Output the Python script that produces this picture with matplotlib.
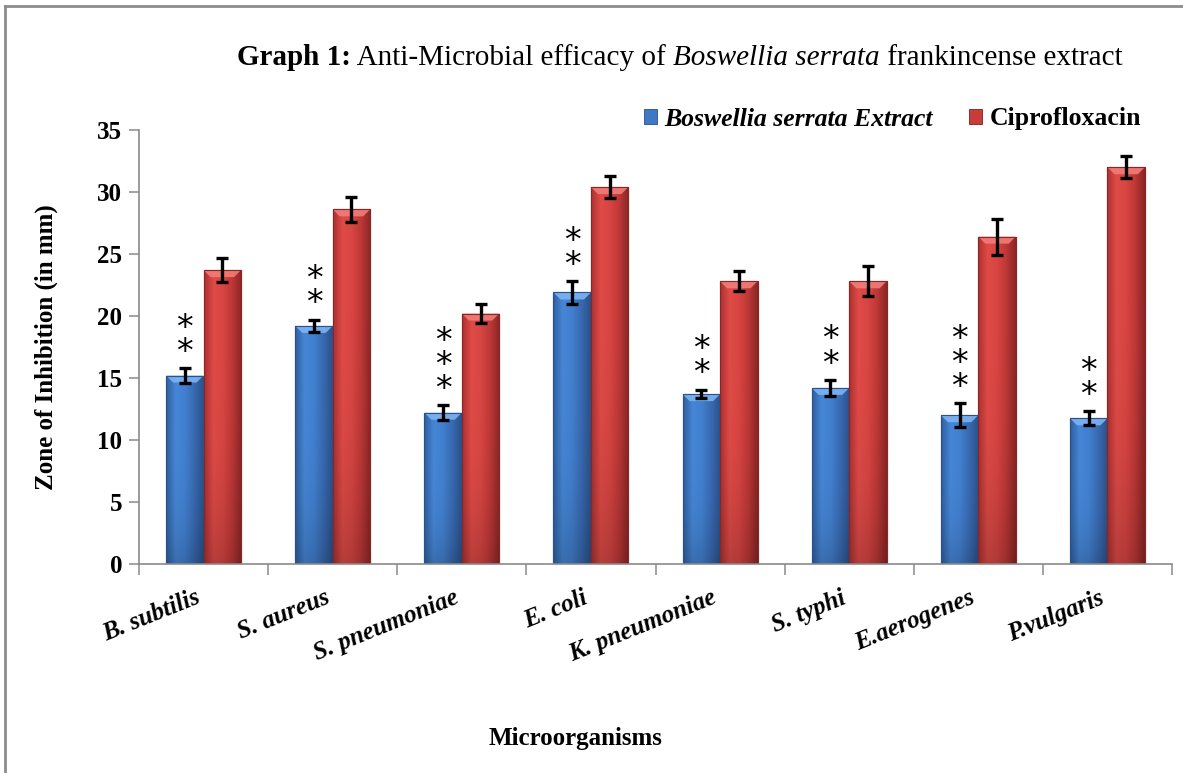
import numpy as np
import matplotlib
matplotlib.use("Agg")
import matplotlib.pyplot as plt
from matplotlib.colors import LinearSegmentedColormap, to_rgb
from matplotlib.patches import Patch, Polygon
from matplotlib.lines import Line2D

# values
categories = ["B. subtilis", "S. aureus", "S. pneumoniae", "E. coli",
              "K. pneumoniae", "S. typhi", "E.aerogenes", "P.vulgaris"]
extract = [15.2, 19.2, 12.2, 21.9, 13.7, 14.2, 12.0, 11.75]
extract_err = [0.6, 0.5, 0.6, 0.9, 0.35, 0.65, 0.95, 0.55]
cipro = [23.7, 28.6, 20.2, 30.4, 22.8, 22.8, 26.4, 32.0]
cipro_err = [0.95, 1.0, 0.75, 0.9, 0.8, 1.2, 1.45, 0.9]
stars = ["**", "**", "***", "**", "**", "**", "***", "**"]
yticks = [0, 5, 10, 15, 20, 25, 30, 35]

SERIF = "Liberation Serif"
W, H = 1183, 773

fig = plt.figure(figsize=(W / 100, H / 100), dpi=100)
ax = fig.add_axes([139 / W, 1 - 564 / H, (1172 - 139) / W, (564 - 130) / H])

x = np.arange(len(categories))
bw = 0.29

blue_bars = ax.bar(x - bw / 2, extract, bw, color="#3f78c4", edgecolor="#2a4f80",
                   linewidth=0.8, zorder=2)
red_bars = ax.bar(x + bw / 2, cipro, bw, color="#c83c3a", edgecolor="#7a2222",
                  linewidth=0.8, zorder=2)

ax.set_xlim(-0.5, len(categories) - 0.5)
ax.set_ylim(0, 35)

blue_grad = ["#2f5f9e", "#4686d6", "#4180cf", "#3869b0", "#2b5189"]
red_grad = ["#ac3131", "#df4b47", "#d84542", "#bc3836", "#8a2626"]
blue_top = "#7db3f2"
red_top = "#f27c78"

# pixel -> data conversions for the little bevel on top of each bar
p0 = ax.transData.transform((0, 0))
p1 = ax.transData.transform((1, 1))
px_x = 1 / (p1[0] - p0[0])
px_y = 1 / (p1[1] - p0[1])


def shade(bars, stops, top_col):
    cmap = LinearSegmentedColormap.from_list("g", stops)
    hx = np.linspace(0, 1, 80)
    vy = np.linspace(0, 1, 120)
    rgb = cmap(hx)[:, :3][None, :, :]
    dark = 1 - 0.18 * (1 - vy[:, None, None]) ** 4
    img = rgb * dark
    for b in bars:
        x0, y0, w, h = b.get_x(), b.get_y(), b.get_width(), b.get_height()
        im = ax.imshow(img, extent=(x0, x0 + w, y0, y0 + h), origin="lower",
                       aspect="auto", zorder=2.1, interpolation="bilinear")
        im.set_clip_path(b)
        dx, dy = 7 * px_x, 7 * px_y
        top = y0 + h
        ax.add_patch(Polygon([(x0, top), (x0 + w, top), (x0 + w - dx, top - dy),
                              (x0 + dx, top - dy)], closed=True,
                             facecolor=top_col, edgecolor="none", zorder=2.2, alpha=0.9))
        ax.add_patch(Polygon([(x0, y0), (x0, top), (x0 + w, top), (x0 + w, y0)],
                             closed=False, fill=False,
                             edgecolor=to_rgb(stops[-1]), linewidth=0.8, zorder=2.3))


shade(blue_bars, blue_grad, blue_top)
shade(red_bars, red_grad, red_top)
ax.set_xlim(-0.5, len(categories) - 0.5)
ax.set_ylim(0, 35)

ax.errorbar(x - bw / 2, extract, yerr=extract_err, fmt="none", ecolor="black",
            elinewidth=2.4, capsize=4.6, capthick=2.4, zorder=4)
ax.errorbar(x + bw / 2, cipro, yerr=cipro_err, fmt="none", ecolor="black",
            elinewidth=2.4, capsize=4.6, capthick=2.4, zorder=4)

# significance stars stacked above the extract bars (one text per bar)
star_size = 24
for xi, v, e, s in zip(x - bw / 2, extract, extract_err, stars):
    ax.annotate("\n".join(s), xy=(xi, v + e), xytext=(0, 18.7 - 0.59 * star_size),
                textcoords="offset points", ha="center", va="baseline",
                fontsize=star_size, family="DejaVu Sans", linespacing=0.66, zorder=5)

# axes styling
for side in ("top", "right"):
    ax.spines[side].set_visible(False)
for side in ("left", "bottom"):
    ax.spines[side].set_color("#8a8a8a")
    ax.spines[side].set_linewidth(1.2)

ax.set_yticks(yticks)
ax.set_yticklabels([str(t) for t in yticks], fontsize=18, fontweight="bold", family=SERIF)
ax.tick_params(axis="y", direction="out", length=7, width=1.1, color="#8a8a8a", pad=5)

ax.set_xticks(np.arange(-0.5, len(categories)), minor=False)
ax.set_xticklabels([])
ax.set_xticks(x, minor=True)
ax.set_xticklabels(categories, minor=True, fontsize=18, fontweight="bold",
                   fontstyle="italic", family=SERIF, rotation=22, ha="right", va="top")
ax.tick_params(axis="x", which="major", direction="out", length=8, width=1.1, color="#8a8a8a")
ax.tick_params(axis="x", which="minor", length=0, pad=16)

ax.set_ylabel("Zone of Inhibition (in mm)", fontsize=18, fontweight="bold", family=SERIF,
              va="center")
ax.yaxis.set_label_coords((46 - 139) / 1033, 0.5)
ax.set_xlabel("Microorganisms", fontsize=18, fontweight="bold", family=SERIF, va="center")
ax.xaxis.set_label_coords((576 - 139) / 1033, (564 - 738) / 434)

# legend
handles = [Patch(facecolor="#3f78c4", edgecolor="#2a4f80", linewidth=0.6),
           Patch(facecolor="#c83c3a", edgecolor="#7a2222", linewidth=0.6)]
leg = ax.legend(handles, ["Boswellia serrata Extract", "Ciprofloxacin"],
                loc="center right", bbox_to_anchor=(1141 / W, 1 - 119 / H),
                bbox_transform=fig.transFigure, ncol=2, frameon=False,
                prop={"family": SERIF, "size": 18.5, "weight": "bold"},
                handlelength=0.5, handleheight=0.5, handletextpad=0.3,
                columnspacing=1.4, borderpad=0, borderaxespad=0)
leg.get_texts()[0].set_fontstyle("italic")

# title made of differently styled pieces
renderer = fig.canvas.get_renderer()
title_parts = [("Graph 1:", "bold", "normal"),
               (" Anti-Microbial efficacy of ", "normal", "normal"),
               ("Boswellia serrata", "normal", "italic"),
               (" frankincense extract", "normal", "normal")]
tx = 237 / W
for txt, wt, st in title_parts:
    t = fig.text(tx, 1 - 65 / H, txt, fontsize=21, fontweight=wt, fontstyle=st,
                 family=SERIF, ha="left", va="baseline")
    tx += t.get_window_extent(renderer=renderer).width / fig.bbox.width

# outer frame of the chart area (only left and top edges are visible)
fig.add_artist(Line2D([5 / W, 5 / W], [0, 1 - 6 / H], transform=fig.transFigure,
                      color="#8c8c8c", linewidth=2))
fig.add_artist(Line2D([5 / W, 1], [1 - 6 / H, 1 - 6 / H], transform=fig.transFigure,
                      color="#8c8c8c", linewidth=2))

fig.savefig("out.png", dpi=100)
